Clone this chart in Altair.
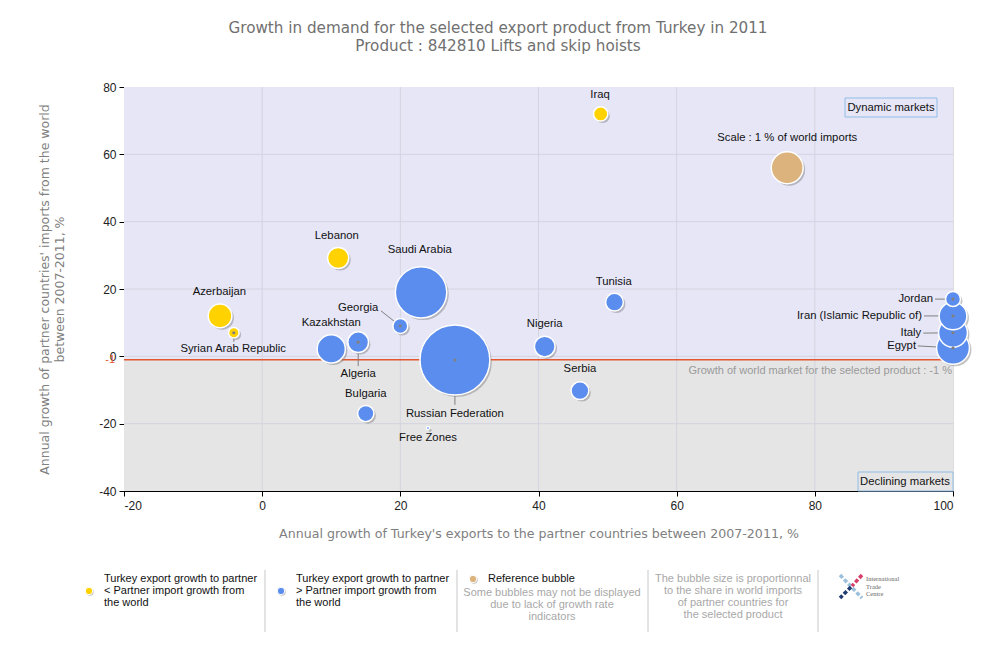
import altair as alt
import pandas as pd

# ---------------- data ----------------
countries = ["Iraq", "Lebanon", "Saudi Arabia", "Tunisia", "Azerbaijan",
             "Syrian Arab Republic", "Georgia", "Kazakhstan", "Algeria",
             "Russian Federation", "Nigeria", "Serbia", "Bulgaria", "Free Zones",
             "Jordan", "Iran (Islamic Republic of)", "Italy", "Egypt"]
export_growth = [49, 11, 23, 51, -6.1, -4.1, 20, 10, 13.9, 27.9, 40.9, 46, 15, 24,
                 100, 100, 100, 100]
import_growth = [72, 29.2, 19, 16.1, 12, 7, 9, 2.2, 4.2, -1.1, 2.9, -10.2, -17, -21.3,
                 17, 12, 7, 2.5]
world_share = [0.2, 0.44, 2.6, 0.31, 0.55, 0.11, 0.22, 0.78, 0.42, 4.8, 0.42, 0.31,
               0.26, 0.01, 0.22, 0.76, 0.82, 1.06]

# label anchors (data units) and alignment
label_x = [48.9, 10.8, 22.8, 50.9, -6.2, -4.2, 16.8, 10.0, 13.9, 27.9, 40.9, 46.0,
           15.0, 24.0, 97.1, 95.5, 95.4, 94.65]
label_y = [77.6, 35.7, 31.6, 22.1, 19.1, 2.2, 14.4, 9.9, -5.2, -17.1, 9.6, -3.8,
           -11.2, -24.2, 17.0, 12.0, 6.9, 3.1]
label_align = ["center"] * 6 + ["right"] + ["center"] * 7 + ["right"] * 4

# leader lines: country -> end point
leader_country = ["Syrian Arab Republic", "Georgia", "Algeria", "Russian Federation",
                  "Jordan", "Iran (Islamic Republic of)", "Italy", "Egypt"]
leader_x = [-4.1, 17.2, 13.9, 27.9, 97.4, 95.8, 95.7, 94.9]
leader_y = [4.3, 13.5, -2.9, -14.4, 17.0, 12.0, 6.9, 3.1]

ref_x, ref_y, ref_share = 76, 56, 1.0
ref_label = "Scale : 1 % of world imports"
world_growth = -1

x_domain = [-20, 100]
y_domain = [-40, 80]
x_ticks = [-20, 0, 20, 40, 60, 80, 100]
y_ticks = [-40, -20, 0, 20, 40, 60, 80]

title_lines = ["Growth in demand for the selected export product from Turkey in 2011",
               "Product : 842810 Lifts and skip hoists"]
x_title = "Annual growth of Turkey's exports to the partner countries between 2007-2011, %"
y_title = ["Annual growth of partner countries' imports from the world",
           "between 2007-2011, %"]

# ---------------- tables ----------------
group = ["yellow" if e < i else "blue" for e, i in zip(export_growth, import_growth)]
bubbles = pd.DataFrame({"name": countries, "x": export_growth, "y": import_growth,
                        "share": world_share, "group": group})
bubbles = pd.concat([bubbles, pd.DataFrame({"name": ["Reference"], "x": [ref_x],
                                            "y": [ref_y], "share": [ref_share],
                                            "group": ["ref"]})], ignore_index=True)
labels = pd.DataFrame({"name": countries, "x": label_x, "y": label_y,
                       "align": label_align})
labels = pd.concat([labels, pd.DataFrame({"name": [ref_label], "x": [ref_x],
                                          "y": [64.85], "align": ["center"]})],
                   ignore_index=True)
pos = dict(zip(countries, zip(export_growth, import_growth)))
leaders = pd.DataFrame({"name": leader_country,
                        "x": [pos[c][0] for c in leader_country],
                        "y": [pos[c][1] for c in leader_country],
                        "x2": leader_x, "y2": leader_y})
regions = pd.DataFrame({"x": [x_domain[0]] * 2, "x2": [x_domain[1]] * 2,
                        "y": [world_growth, y_domain[0]],
                        "y2": [y_domain[1], world_growth],
                        "fill": ["#e6e6f7", "#e5e5e5"]})
vgrid = pd.DataFrame({"x": x_ticks[1:-1]})
hgrid = pd.DataFrame({"y": y_ticks[1:-1]})

# ---------------- encodings ----------------
lab_expr = "datum.value < 0 ? '-' + abs(datum.value) : '' + datum.value"
xs = alt.Scale(domain=x_domain, nice=False, zero=False)
ys = alt.Scale(domain=y_domain, nice=False, zero=False)
xaxis = alt.Axis(values=x_ticks, grid=False, domainColor="#000", tickColor="#000",
                 tickSize=5, labelFont="Liberation Sans", labelFontSize=12,
                 labelColor="#222", labelPadding=4, titleFont="DejaVu Sans",
                 titleFontSize=12.6, titleColor="#808080", titleFontWeight="normal",
                 titlePadding=16, labelExpr=lab_expr)
yaxis = alt.Axis(values=y_ticks, grid=False, domainColor="#000", tickColor="#000",
                 tickSize=5, labelFont="Liberation Sans", labelFontSize=12,
                 labelColor="#222", labelPadding=3, titleFont="DejaVu Sans",
                 titleFontSize=12.5, titleColor="#808080", titleFontWeight="normal",
                 titlePadding=32, titleLineHeight=15, labelExpr=lab_expr)


def X(f="x"):
    return alt.X(f, type="quantitative", scale=xs, axis=xaxis, title=x_title)


def Y(f="y"):
    return alt.Y(f, type="quantitative", scale=ys, axis=yaxis, title=y_title)


LF = "Liberation Sans"
LS = 11.3

bg = alt.Chart(regions).mark_rect().encode(
    x=X(), x2="x2", y=Y(), y2="y2", fill=alt.Fill("fill:N", scale=None))
vg = alt.Chart(vgrid).mark_rule(color="#d4d4e0", strokeWidth=1).encode(x=X())
hg = alt.Chart(hgrid).mark_rule(color="#d4d4e0", strokeWidth=1).encode(y=Y())
red = alt.Chart(pd.DataFrame({"y": [world_growth]})).mark_rule(
    color="#e4572e", strokeWidth=1.5).encode(y=Y())
red_lbl = alt.Chart(pd.DataFrame({"y": [world_growth]})).mark_text(
    text="-1", align="right", baseline="middle", font=LF, fontSize=11,
    color="#e4572e", dx=-9).encode(y=Y(), x=alt.value(0))
world_txt = alt.Chart(pd.DataFrame({"y": [world_growth]})).mark_text(
    text="Growth of world market for the selected product : -1 %", align="right",
    baseline="middle", font=LF, fontSize=11, color="#9a9a9a",
    dy=11).encode(y=Y(), x=alt.value(828))

box_dyn = alt.Chart(pd.DataFrame({"a": [0]})).mark_rect(
    fill="#e6e6f7", stroke="#8fbce6", strokeWidth=1).encode(
    x=alt.value(721), x2=alt.value(813), y=alt.value(11), y2=alt.value(30))
txt_dyn = alt.Chart(pd.DataFrame({"a": [0]})).mark_text(
    text="Dynamic markets", font=LF, fontSize=LS, color="#111",
    baseline="middle").encode(x=alt.value(767), y=alt.value(21))
box_dec = alt.Chart(pd.DataFrame({"a": [0]})).mark_rect(
    fill="#e5e5e5", stroke="#8fbce6", strokeWidth=1).encode(
    x=alt.value(734), x2=alt.value(829), y=alt.value(385), y2=alt.value(404))
txt_dec = alt.Chart(pd.DataFrame({"a": [0]})).mark_text(
    text="Declining markets", font=LF, fontSize=LS, color="#111",
    baseline="middle").encode(x=alt.value(781), y=alt.value(395))

lead = alt.Chart(leaders).mark_rule(color="#808080", strokeWidth=1).encode(
    x=X(), y=Y(), x2="x2", y2="y2")

size_scale = alt.Scale(type="linear", domain=[0, 1], range=[0, 1018], zero=True)
color_scale = alt.Scale(domain=["yellow", "blue", "ref"],
                        range=["#ffd200", "#5b8def", "#dcb27d"])
order = alt.Order("share:Q", sort="descending")

shadow = alt.Chart(bubbles).mark_circle(
    color="#7a7a7a", opacity=0.45, xOffset=2, yOffset=2).encode(
    x=X(), y=Y(), size=alt.Size("share:Q", scale=size_scale, legend=None),
    order=order)
bub = alt.Chart(bubbles).mark_circle(
    opacity=1, stroke="white", strokeWidth=1.5).encode(
    x=X(), y=Y(), size=alt.Size("share:Q", scale=size_scale, legend=None),
    color=alt.Color("group:N", scale=color_scale, legend=None),
    order=order)
dots = alt.Chart(leaders).mark_circle(color="#808080", size=10, opacity=1).encode(
    x=X(), y=Y())

lab_c = alt.Chart(labels).transform_filter("datum.align == 'center'").mark_text(
    align="center", baseline="middle", font=LF, fontSize=LS,
    color="#111").encode(x=X(), y=Y(), text="name:N")
lab_r = alt.Chart(labels).transform_filter("datum.align == 'right'").mark_text(
    align="right", baseline="middle", font=LF, fontSize=LS,
    color="#111").encode(x=X(), y=Y(), text="name:N")

# ---------------- title ----------------
t1 = alt.Chart(pd.DataFrame({"a": [0]})).mark_text(
    text=title_lines[0], font="DejaVu Sans", fontSize=15.2, color="#707070",
    baseline="middle").encode(x=alt.value(374), y=alt.value(-59))
t2 = alt.Chart(pd.DataFrame({"a": [0]})).mark_text(
    text=title_lines[1], font="DejaVu Sans", fontSize=15.2, color="#707070",
    baseline="middle").encode(x=alt.value(374), y=alt.value(-41))

# ---------------- legend (bottom) ----------------
one = pd.DataFrame({"a": [0]})
lfont = "Liberation Sans"
leg = []
for px, py, col in [(-35, 504, "#ffd200"), (157, 504, "#5b8def"), (349, 492, "#dcb27d")]:
    leg.append(alt.Chart(one).mark_circle(color="#7a7a7a", opacity=0.45, size=55,
                                          xOffset=1, yOffset=1).encode(
        x=alt.value(px), y=alt.value(py)))
    leg.append(alt.Chart(one).mark_circle(color=col, opacity=1, size=55,
                                          stroke="white", strokeWidth=1).encode(
        x=alt.value(px), y=alt.value(py)))
leg_text = [
    (-20, 486, "left", "#111",
     ["Turkey export growth to partner", "< Partner import growth from", "the world"]),
    (172, 486, "left", "#111",
     ["Turkey export growth to partner", "> Partner import growth from", "the world"]),
    (364, 486, "left", "#111", ["Reference bubble"]),
    (428, 500, "center", "#a8a8a8",
     ["Some bubbles may not be displayed", "due to lack of growth rate", "indicators"]),
    (609, 486, "center", "#a8a8a8",
     ["The bubble size is proportionnal", "to the share in world imports",
      "of partner countries for", "the selected product"]),
]
for px, py, al, col, lines in leg_text:
    leg.append(alt.Chart(one).mark_text(
        text=lines, align=al, baseline="top", font=lfont, fontSize=11,
        lineHeight=12, color=col).encode(x=alt.value(px), y=alt.value(py)))
for sx in [141, 333, 524, 694]:
    leg.append(alt.Chart(one).mark_rule(color="#c8c8c8", strokeWidth=1).encode(
        x=alt.value(sx), y=alt.value(483), y2=alt.value(545)))
# ITC logo
leg.append(alt.Chart(one).mark_rule(color="#9cc0dc", strokeWidth=3.5,
                                    strokeDash=[4, 2]).encode(
    x=alt.value(716), x2=alt.value(738), y=alt.value(488), y2=alt.value(511)))
leg.append(alt.Chart(one).mark_rule(color="#d8406a", strokeWidth=3.5,
                                    strokeDash=[4, 2]).encode(
    x=alt.value(738), x2=alt.value(728), y=alt.value(488), y2=alt.value(499)))
leg.append(alt.Chart(one).mark_rule(color="#1f3b70", strokeWidth=3.5,
                                    strokeDash=[4, 2]).encode(
    x=alt.value(727), x2=alt.value(716), y=alt.value(500), y2=alt.value(511)))
leg.append(alt.Chart(one).mark_text(
    text=["International", "Trade", "Centre"], align="left", baseline="top",
    font="Liberation Serif", fontSize=6.5, lineHeight=7.5, color="#666").encode(
    x=alt.value(742), y=alt.value(489)))

chart = alt.layer(
    bg, vg, hg, red, world_txt, box_dyn, txt_dyn, box_dec, txt_dec, lead, shadow,
    bub, dots, lab_c, lab_r, red_lbl, t1, t2, *leg
).properties(
    width=829, height=404,
    autosize=alt.AutoSizeParams(type="none"),
    padding={"left": 116, "top": 79, "right": 39, "bottom": 151},
).configure_view(stroke=None).configure(background="white")

chart.save("out.html", embed_options={"renderer": "svg", "actions": False})
